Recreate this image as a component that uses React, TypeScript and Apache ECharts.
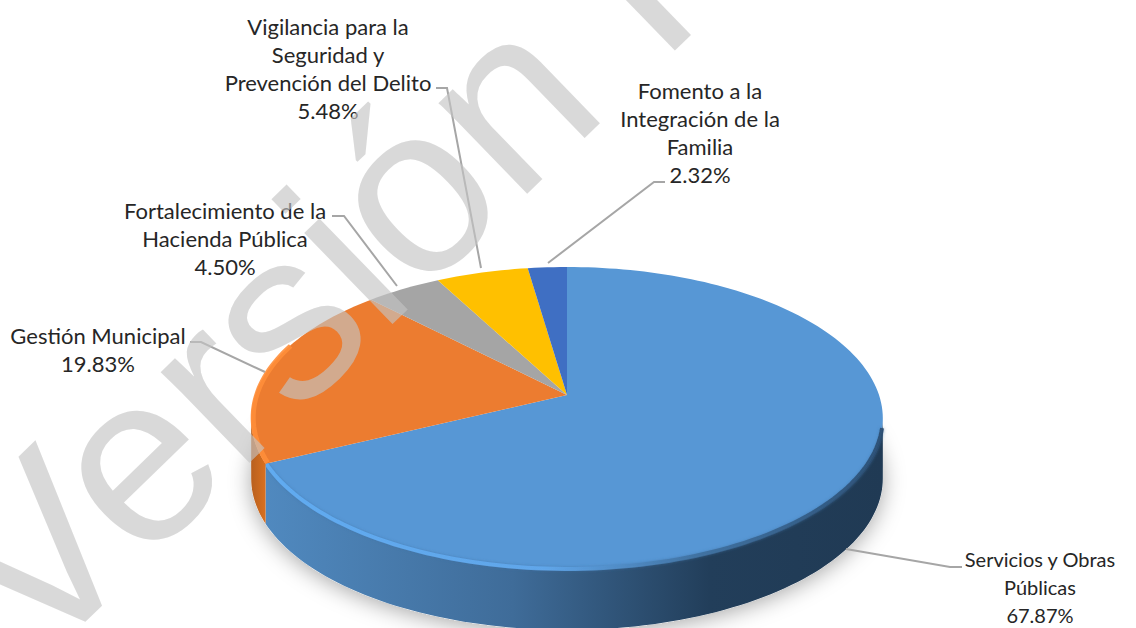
import React, { useEffect, useRef } from "react";
import * as echarts from "echarts";

const names = [
  "Servicios y Obras\nPúblicas",
  "Gestión Municipal",
  "Fortalecimiento de la\nHacienda Pública",
  "Vigilancia para la\nSeguridad y\nPrevención del Delito",
  "Fomento a la\nIntegración de la\nFamilia",
];
const values = [67.87, 19.83, 4.5, 5.48, 2.32];
const colors = ["#5797d5", "#ec7c30", "#a5a5a5", "#ffc000", "#3f6fc3"];
const labelPos = [
  [1040, 587],
  [98, 349],
  [225, 238],
  [328, 68],
  [700, 132],
];
const labelSizes = [20, 22, 22, 22, 22];
const leaders = [
  [[962, 567], [950, 567], [846, 549]],
  [[190, 342], [201, 342], [265, 372]],
  [[332, 216], [344, 216], [397, 286]],
  [[436, 88], [447, 88], [481, 268]],
  [[665, 182], [654, 182], [548, 263]],
];

// perspective disc: maps angle on the disc to screen
const CX = 567, K = 312, A = 86.6, B = 395, C = -0.155, DEPTH = 60;
const project = (deg: number, dy = 0) => {
  const t = (deg * Math.PI) / 180;
  const u = Math.sin(t), v = -Math.cos(t);
  const d = 1 + C * v;
  return [CX + (K * u) / d, (A * v + B) / d + dy];
};
const arc = (a: number, b: number, dy = 0) => {
  const pts: number[][] = [];
  const n = Math.max(2, Math.ceil(Math.abs(b - a) / 1.5));
  for (let i = 0; i <= n; i++) pts.push(project(a + ((b - a) * i) / n, dy));
  return pts;
};
const WALL_START = 98.9, WALL_END = 261.1;

const hGrad = (stops: [number, string][]) => ({
  type: "linear", x: 0, y: 0, x2: 1, y2: 0,
  colorStops: stops.map(([offset, color]) => ({ offset, color })),
});

const renderItem = (params: any, api: any) => {
  const i = params.dataIndex;
  const total = values.reduce((s, x) => s + x, 0);
  const before = values.slice(0, i).reduce((s, x) => s + x, 0);
  const a0 = (before / total) * 360;
  const a1 = a0 + (api.value(0) / total) * 360;
  const children: any[] = [];
  if (i === 0) {
    children.push({
      type: "polygon",
      shape: { points: arc(0, 360, DEPTH) },
      style: { fill: "#ffffff", shadowBlur: 22, shadowColor: "rgba(0,0,0,0.35)", shadowOffsetY: 3 },
    });
  }
  const w0 = Math.max(a0, WALL_START), w1 = Math.min(a1, WALL_END);
  if (w1 > w0) {
    const top = arc(w0, w1);
    const bottom = arc(w0, w1, DEPTH).reverse();
    children.push({
      type: "polygon",
      shape: { points: [...top, ...bottom] },
      style: {
        fill: i === 0
          ? hGrad([[0, "#5089bf"], [0.4, "#3f6c99"], [0.72, "#223e5a"], [1, "#203a54"]])
          : hGrad([[0, "#b8601f"], [1, "#d9701f"]]),
      },
    });
  }
  children.push({
    type: "polygon",
    shape: { points: [[CX, B], ...arc(a0, a1)] },
    style: { fill: colors[i] },
  });
  if (i === 0) {
    children.push({
      type: "polyline",
      shape: { points: arc(WALL_START + 4, a1, -1) },
      style: {
        fill: "none", lineWidth: 4,
        stroke: hGrad([[0, "#62aef5"], [0.45, "#62a9ee"], [0.7, "#3f709f"], [1, "#2a4c70"]]),
        opacity: 0.9,
        shadowBlur: 3, shadowColor: "rgba(60,110,160,0.6)",
      },
    });
  }
  if (i === 1) {
    children.push({
      type: "polyline",
      shape: { points: arc(a0, 290, -1).map(([x, y]) => [x + 2, y]) },
      style: { fill: "none", lineWidth: 5, stroke: "#ff8e3a", opacity: 0.9 },
    });
  }
  return { type: "group", children };
};

export default function App() {
  const ref = useRef<HTMLDivElement>(null);
  useEffect(() => {
    document.body.style.margin = "0";
    const chart = echarts.init(ref.current!, undefined, { renderer: "svg" });
    const elements: any[] = [];
    leaders.forEach((pts) => {
      elements.push({
        type: "polyline", z: 50, shape: { points: pts },
        style: { fill: "none", stroke: "#a6a6a6", lineWidth: 2 },
      });
    });
    names.forEach((n, i) => {
      elements.push({
        type: "text", z: 60, x: labelPos[i][0], y: labelPos[i][1],
        style: {
          text: `${n}\n${values[i].toFixed(2)}%`,
          align: "center", verticalAlign: "middle",
          font: `${labelSizes[i]}px Lato`, lineHeight: 28, fill: "#262626",
        },
      });
    });
    elements.push({
      type: "text", z: 100, x: 62, y: 696, rotation: 0.77,
      style: {
        text: "Versión I", align: "left", verticalAlign: "bottom",
        font: '240px "Liberation Sans"', fill: "rgba(195,195,195,0.64)",
      },
    });
    chart.setOption({
      animation: false,
      backgroundColor: "#ffffff",
      series: [{
        type: "custom",
        coordinateSystem: "none",
        renderItem,
        data: values.map((v) => [v]),
        silent: true,
      }],
      graphic: { elements },
    });
    return () => chart.dispose();
  }, []);
  return <div ref={ref} style={{ width: 1136, height: 628 }} />;
}
